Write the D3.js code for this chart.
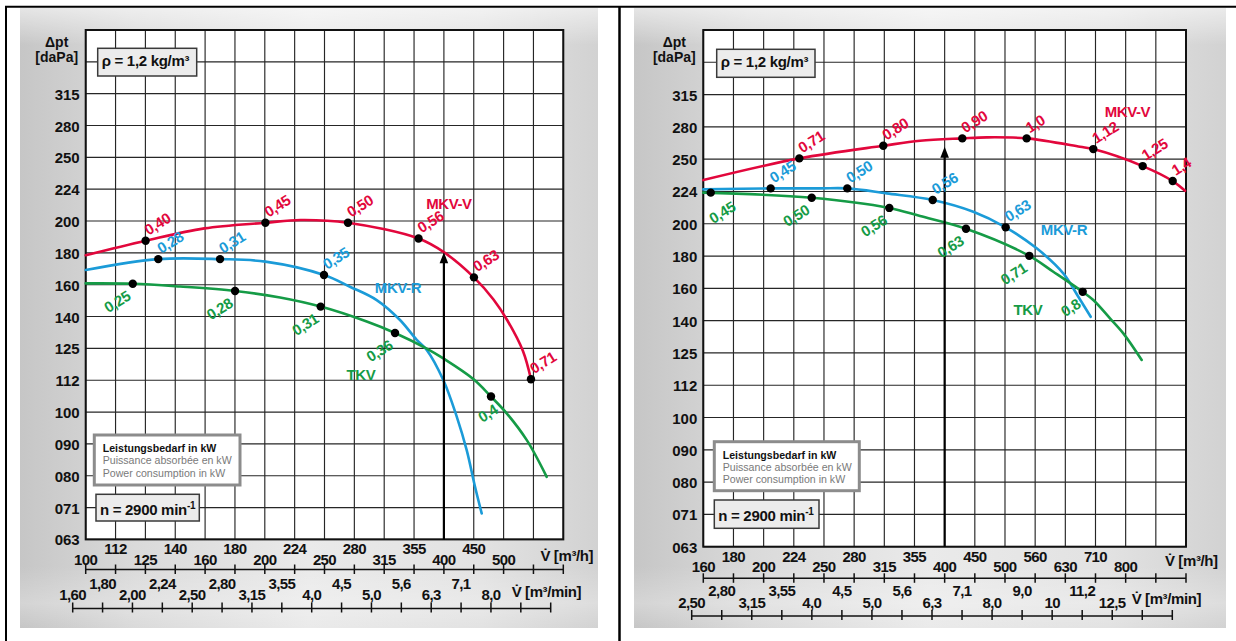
<!DOCTYPE html>
<html><head><meta charset="utf-8">
<script src="https://cdn.jsdelivr.net/npm/d3@7"></script>
<style>
html,body{margin:0;padding:0;background:#fff;}
svg{display:block;font-family:"Liberation Sans",Arial,Helvetica,sans-serif;}
</style></head><body>
<svg id="chart" width="1236" height="641"></svg>
<script>
// ---------------- DATA ----------------
const pressureTicks = ["063","071","080","090","100","112","125","140","160","180","200","224","250","280","315","355","400"];
const leftFlowTicks = ["100","112","125","140","160","180","200","224","250","280","315","355","400","450","500","560","630"];
const leftFlowMinTicks = ["1,60","1,80","2,00","2,24","2,50","2,80","3,15","3,55","4,0","4,5","5,0","5,6","6,3","7,1","8,0","9,0","10"];
const rightFlowTicks = ["160","180","200","224","250","280","315","355","400","450","500","560","630","710","800","900","1000"];
const rightFlowMinTicks = ["2,50","2,80","3,15","3,55","4,0","4,5","5,0","5,6","6,3","7,1","8,0","9,0","10","11,2","12,5","14","16"];
const labelledTickCount = 15;
const seriesNames = ["MKV-V","MKV-R","TKV"];

// left chart: [flow m3/h, pressure daPa]
const leftMkvV = [[100,176],[126,185.5],[158,194],[200,198],[229,200],[275,198],[361,187],[398,178],[447,162.5],[482,150],[508,139.3],[540,124.5],[557,112.4]];
const leftMkvR = [[100,166.9],[132.3,173.6],[167.9,173.6],[200,172],[250.7,163.9],[277.1,157.1],[307.2,149.7],[336.1,139.3],[358.5,129.6],[372.6,125],[397.2,112.1],[418.3,98.2],[434.7,87],[448.9,76.2],[460.6,69.2]];
const leftTkv = [[100,159],[119.9,158.8],[143.9,157.2],[177.9,154.7],[211.6,151.1],[247.5,146.2],[295.6,138.5],[329.7,132.9],[372.6,125.6],[397.2,121.2],[445.9,112.5],[477.4,105.6],[507.2,99.4],[548.1,90.2],[591.8,79]];
// power points: [flow, pressure, kW label]
const leftMkvVPower = [[126,185.5,"0,40"],[200,198,"0,45"],[275,198,"0,50"],[361,187,"0,56"],[447,162.5,"0,63"],[557,112.4,"0,71"]];
const leftMkvRPower = [[132.3,173.6,"0,28"],[167.9,173.6,"0,31"],[250.7,163.9,"0,35"]];
const leftTkvPower = [[119.9,158.8,"0,25"],[177.9,154.7,"0,28"],[247.5,146.2,"0,31"],[329.7,132.9,"0,36"],[477.4,105.6,"0,4"]];
const leftNameAnchors = [[406,212.4],[333.5,156.4],[289.1,114.2]];
const leftArrow = ["400", 177.9];

// right chart
const rightMkvV = [[160,232.8],[230.8,251.5],[318,263.1],[365.9,267.8],[429.9,270.1],[471.8,271.1],[549.6,270.1],[673.6,262.2],[708.7,260],[855.7,244.7],[959.5,232],[1005.8,224.1]];
const rightMkvR = [[160,225.2],[206.9,226],[249.8,226],[277.2,226],[322.1,222],[384,216.8],[448.3,207.9],[507.3,196.7],[571,182.5],[632,166.9],[669.3,153.6],[701.7,143]];
const rightTkv = [[160,222.6],[242,218.6],[325.4,210.8],[365.9,204.8],[436,195.7],[555.1,177.7],[608.4,167.9],[680.6,156.3],[708.7,151.8],[755.4,142.2],[794.7,134.8],[852.5,122.6]];
const rightMkvVPower = [[230.8,251.5,"0,71"],[318,263.1,"0,80"],[429.9,270.1,"0,90"],[549.6,270.1,"1,0"],[708.7,260,"1,12"],[855.7,244.7,"1,25"],[959.5,232,"1,4"]];
const rightMkvRPower = [[206.9,226,"0,45"],[277.2,226,"0,50"],[384,216.8,"0,56"],[507.3,196.7,"0,63"]];
const rightTkvPower = [[164.6,222.6,"0,45"],[242,218.6,"0,50"],[325.4,210.8,"0,56"],[436,195.7,"0,63"],[555.1,177.7,"0,71"],[680.6,156.3,"0,8"]];
const rightNameAnchors = [[807.5,297.1],[633.7,195.5],[552.4,146.5]];
const rightArrow = ["400", 262.2];

const densityText = "ρ = 1,2 kg/m³";
const speedText = ["n = 2900 min", "-1"];
const legendLines = ["Leistungsbedarf in kW","Puissance absorbée en kW","Power consumption in kW"];
const axisTitle = ["Δpt","[daPa]"];
const flowUnitH = "V\u0307 [m³/h]";
const flowUnitMin = "V\u0307 [m³/min]";

// ---------------- STYLE / LAYOUT ----------------
const colors = {"MKV-V":"#e2073c","MKV-R":"#1b9bd8","TKV":"#159b46"};
const panels = [
  {flowTicks:leftFlowTicks, minTicks:leftFlowMinTicks,
   curves:[leftMkvV,leftMkvR,leftTkv], power:[leftMkvVPower,leftMkvRPower,leftTkvPower],
   names:leftNameAnchors, arrow:leftArrow,
   labelNudge:{"TKV|0,4":[8,16]},
   g:{x0:85.7,x1:563.3,y0:30,y1:539.4,bg:[20,8,578,620],hAxisY:569.5,hUp:554.3,hLow:565,
      mAxisY:608.5,mUp:588.5,mLow:600,mx0:72.7,mx1:550.7,hUnit:[540.5,561],mUnit:[511.7,597],
      rho:[97.7,48.3,99,27.7],legend:[94.3,435,145.7,50],nBox:[96,494.3,103.3,26.7]}},
  {flowTicks:rightFlowTicks, minTicks:rightFlowMinTicks,
   curves:[rightMkvV,rightMkvR,rightTkv], power:[rightMkvVPower,rightMkvRPower,rightTkvPower],
   names:rightNameAnchors, arrow:rightArrow,
   labelNudge:{"TKV|0,45":[26,17]},
   g:{x0:703.3,x1:1186,y0:30,y1:546.7,bg:[634,8,592,620],hAxisY:578.3,hUp:561.7,hLow:571.7,
      mAxisY:616,mUp:596,mLow:607.5,mx0:691.7,mx1:1172.3,hUnit:[1165,566],mUnit:[1131.7,604],
      rho:[716.7,49.3,98.3,28],legend:[714.3,441.7,145,49],nBox:[714.3,500,104.7,28.3]}}
];

const svg = d3.select("#chart");
const defs = svg.append("defs");
const hg = defs.append("linearGradient").attr("id","bgH").attr("x1",0).attr("x2",1).attr("y1",0).attr("y2",0);
[[0,"#c6c6c6"],[0.2,"#dadada"],[0.5,"#eaeaea"],[0.8,"#e2e2e2"],[1,"#d2d2d2"]].forEach(([o,c])=>hg.append("stop").attr("offset",o).attr("stop-color",c));
const vg = defs.append("linearGradient").attr("id","bgV").attr("x1",0).attr("x2",0).attr("y1",0).attr("y2",1);
[[0,"#ffffff",0.55],[0.06,"#ffffff",0.0],[0.9,"#ffffff",0.0],[0.96,"#ffffff",0.25],[1,"#ffffff",0.0]].forEach(([o,c,a])=>vg.append("stop").attr("offset",o).attr("stop-color",c).attr("stop-opacity",a));

// outer table lines
svg.append("line").attr("x1",5).attr("x2",1236).attr("y1",6.7).attr("y2",6.7).attr("stroke","#000").attr("stroke-width",2);
svg.append("line").attr("x1",6).attr("x2",6).attr("y1",6).attr("y2",641).attr("stroke","#000").attr("stroke-width",2);
svg.append("line").attr("x1",619.5).attr("x2",619.5).attr("y1",6).attr("y2",641).attr("stroke","#000").attr("stroke-width",2.5);

const tickFont = {size:"15px", weight:"bold", ls:"-0.6px"};

panels.forEach(p => {
  const G = p.g;
  const gp = svg.append("g");
  gp.append("rect").attr("x",G.bg[0]).attr("y",G.bg[1]).attr("width",G.bg[2]).attr("height",G.bg[3]).attr("fill","url(#bgH)");
  gp.append("rect").attr("x",G.bg[0]).attr("y",G.bg[1]).attr("width",G.bg[2]).attr("height",G.bg[3]).attr("fill","url(#bgV)");
  gp.append("rect").attr("x",G.x0).attr("y",G.y0).attr("width",G.x1-G.x0).attr("height",G.y1-G.y0).attr("fill","#fff");

  const steps = p.flowTicks.length - 1;
  const f0 = +p.flowTicks[0];
  const x = d3.scaleLog().domain([f0, f0*Math.pow(10, steps/20)]).range([G.x0, G.x1]);
  const y = d3.scaleLog().domain([63, 63*Math.pow(10, (pressureTicks.length-1)/20)]).range([G.y1, G.y0]);
  const xp = d3.scalePoint().domain(p.flowTicks).range([G.x0, G.x1]);
  const xm = d3.scalePoint().domain(p.minTicks).range([G.mx0, G.mx1]);
  const yp = d3.scalePoint().domain(pressureTicks).range([G.y1, G.y0]);

  // grid
  gp.append("g").selectAll("line").data(p.flowTicks).join("line")
    .attr("x1",d=>xp(d)).attr("x2",d=>xp(d)).attr("y1",G.y0).attr("y2",G.y1)
    .attr("stroke","#262626").attr("stroke-width",1.15);
  gp.append("g").selectAll("line").data(pressureTicks).join("line")
    .attr("x1",G.x0).attr("x2",G.x1).attr("y1",d=>yp(d)).attr("y2",d=>yp(d))
    .attr("stroke","#262626").attr("stroke-width",1.15);
  gp.append("rect").attr("x",G.x0).attr("y",G.y0).attr("width",G.x1-G.x0).attr("height",G.y1-G.y0)
    .attr("fill","none").attr("stroke","#111").attr("stroke-width",2);

  // y labels
  gp.append("g").selectAll("text").data(pressureTicks.slice(0,labelledTickCount)).join("text")
    .attr("x",G.x0-6).attr("y",d=>yp(d)+6).attr("text-anchor","end")
    .attr("font-size","15px").attr("font-weight","bold").attr("fill","#111").text(d=>d);
  gp.append("text").attr("x",G.x0-29).attr("y",47).attr("text-anchor","middle").attr("font-size","14px").attr("font-weight","bold").attr("fill","#111").text(axisTitle[0]);
  gp.append("text").attr("x",G.x0-29).attr("y",62).attr("text-anchor","middle").attr("font-size","14px").attr("font-weight","bold").attr("fill","#111").text(axisTitle[1]);

  function drawAxis(scale, ticks, ay, up, low, tUp, tDown){
    const a = gp.append("g");
    a.append("line").attr("x1",scale(ticks[0])).attr("x2",scale(ticks[ticks.length-1])).attr("y1",ay).attr("y2",ay).attr("stroke","#111").attr("stroke-width",1.6);
    a.selectAll("line.t").data(ticks).join("line").attr("class","t")
      .attr("x1",d=>scale(d)).attr("x2",d=>scale(d)).attr("y1",ay-tUp).attr("y2",ay+tDown)
      .attr("stroke","#111").attr("stroke-width",1.5);
    a.selectAll("text").data(ticks.slice(0,labelledTickCount)).join("text")
      .attr("x",d=>scale(d)).attr("y",(d,i)=> i%2===0 ? low : up)
      .attr("text-anchor","middle").attr("font-size",tickFont.size).attr("font-weight",tickFont.weight)
      .attr("letter-spacing",tickFont.ls).attr("fill","#111").text(d=>d);
  }
  drawAxis(xp, p.flowTicks, G.hAxisY, G.hUp, G.hLow, 5, 4.5);
  drawAxis(xm, p.minTicks, G.mAxisY, G.mUp, G.mLow, 6, 4);
  gp.append("text").attr("x",G.hUnit[0]).attr("y",G.hUnit[1]).attr("font-size",tickFont.size).attr("font-weight","bold").attr("letter-spacing","-0.4px").attr("fill","#111").text(flowUnitH);
  gp.append("text").attr("x",G.mUnit[0]).attr("y",G.mUnit[1]).attr("font-size",tickFont.size).attr("font-weight","bold").attr("letter-spacing","-0.4px").attr("fill","#111").text(flowUnitMin);

  // boxes
  gp.append("rect").attr("x",G.rho[0]).attr("y",G.rho[1]).attr("width",G.rho[2]).attr("height",G.rho[3])
    .attr("fill","#ececec").attr("stroke","#3a3a3a").attr("stroke-width",1.5);
  gp.append("text").attr("x",G.rho[0]+4).attr("y",G.rho[1]+18).attr("font-size","15px").attr("font-weight","bold").attr("letter-spacing","-0.3px").attr("fill","#111").text(densityText);
  gp.append("rect").attr("x",G.legend[0]).attr("y",G.legend[1]).attr("width",G.legend[2]).attr("height",G.legend[3])
    .attr("fill","#fff").attr("stroke","#8c8c8c").attr("stroke-width",3);
  gp.append("g").selectAll("text").data(legendLines).join("text")
    .attr("x",G.legend[0]+8.4).attr("y",(d,i)=>G.legend[1]+17+i*12.3)
    .attr("font-size","10.6px").attr("font-weight",(d,i)=>i===0?"bold":"normal")
    .attr("fill",(d,i)=>i===0?"#111":"#7a7a7a").text(d=>d);
  gp.append("rect").attr("x",G.nBox[0]).attr("y",G.nBox[1]).attr("width",G.nBox[2]).attr("height",G.nBox[3])
    .attr("fill","#ececec").attr("stroke","#3a3a3a").attr("stroke-width",1.5);
  const nt = gp.append("text").attr("x",G.nBox[0]+4).attr("y",G.nBox[1]+20.5).attr("font-size","15px").attr("font-weight","bold").attr("letter-spacing","-0.3px").attr("fill","#111");
  nt.append("tspan").text(speedText[0]);
  nt.append("tspan").attr("dy",-6).attr("font-size","10px").text(speedText[1]);

  // curves
  const line = d3.line().x(d=>x(d[0])).y(d=>y(d[1])).curve(d3.curveCatmullRom.alpha(0.5));
  p.curves.forEach((c,i)=>{
    gp.append("path").datum(c).attr("d",line).attr("fill","none")
      .attr("stroke",colors[seriesNames[i]]).attr("stroke-width",2.6).attr("stroke-linecap","round");
  });

  // arrow
  const ax = xp(p.arrow[0]), tipY = y(p.arrow[1]);
  gp.append("line").attr("x1",ax).attr("x2",ax).attr("y1",G.y1).attr("y2",tipY+9).attr("stroke","#000").attr("stroke-width",2.2);
  gp.append("path").attr("d",`M${ax},${tipY} L${ax-4.3},${tipY+11} L${ax+4.3},${tipY+11} Z`).attr("fill","#000");

  // dots and power labels
  p.power.forEach((pts,i)=>{
    const name = seriesNames[i];
    const isBelow = name === "TKV";
    gp.append("g").selectAll("circle").data(pts).join("circle")
      .attr("cx",d=>x(d[0])).attr("cy",d=>y(d[1])).attr("r",4.2).attr("fill","#000");
    gp.append("g").selectAll("text").data(pts).join("text")
      .attr("transform",d=>{
        const n = p.labelNudge[name+"|"+d[2]] || (isBelow ? [-1,15] : [3,-5]);
        return `translate(${x(d[0])+n[0]},${y(d[1])+n[1]}) rotate(-32)`;
      })
      .attr("text-anchor",isBelow?"end":"start")
      .attr("font-size","15px").attr("font-weight","bold").attr("letter-spacing","-0.4px")
      .attr("fill",colors[name]).text(d=>d[2]);
  });

  // series names
  gp.append("g").selectAll("text").data(p.names).join("text")
    .attr("x",d=>x(d[0])).attr("y",d=>y(d[1])+5.5).attr("text-anchor","middle")
    .attr("font-size","15px").attr("font-weight","bold").attr("letter-spacing","-0.4px")
    .attr("fill",(d,i)=>colors[seriesNames[i]]).text((d,i)=>seriesNames[i]);
});
</script>
</body></html>
